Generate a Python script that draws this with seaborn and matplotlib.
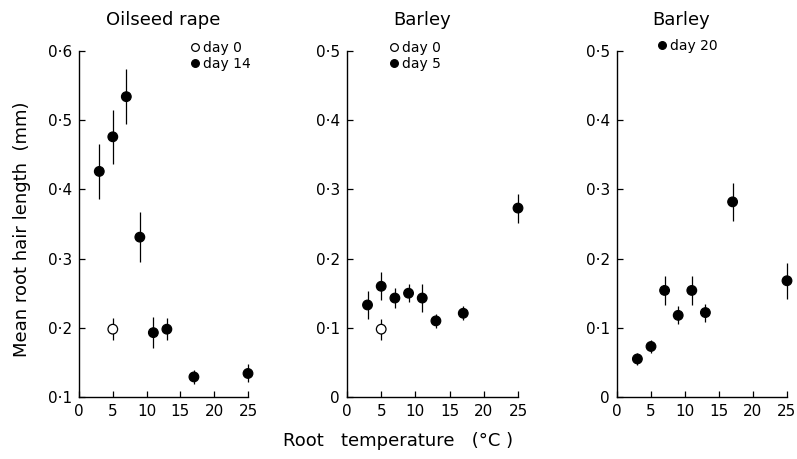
import pandas as pd
import seaborn as sns
import matplotlib.pyplot as plt

# --- Data ---
rape_temp = [5, 3, 5, 7, 9, 11, 13, 17, 25]
rape_len = [0.198, 0.426, 0.476, 0.534, 0.331, 0.193, 0.198, 0.129, 0.134]
rape_err = [0.016, 0.040, 0.039, 0.040, 0.036, 0.022, 0.016, 0.010, 0.013]
rape_day = ["day 0", "day 14", "day 14", "day 14", "day 14", "day 14", "day 14", "day 14", "day 14"]

barley5_temp = [5, 3, 5, 7, 9, 11, 13, 17, 25]
barley5_len = [0.098, 0.133, 0.160, 0.143, 0.150, 0.143, 0.110, 0.121, 0.273]
barley5_err = [0.015, 0.020, 0.020, 0.015, 0.013, 0.020, 0.010, 0.010, 0.021]
barley5_day = ["day 0", "day 5", "day 5", "day 5", "day 5", "day 5", "day 5", "day 5", "day 5"]

barley20_temp = [3, 5, 7, 9, 11, 13, 17, 25]
barley20_len = [0.055, 0.073, 0.154, 0.118, 0.154, 0.122, 0.282, 0.168]
barley20_err = [0.009, 0.010, 0.021, 0.013, 0.021, 0.013, 0.027, 0.026]
barley20_day = ["day 20"] * 8

titles = ["Oilseed rape", "Barley", "Barley"]
y_ticks = [[0.1, 0.2, 0.3, 0.4, 0.5, 0.6], [0, 0.1, 0.2, 0.3, 0.4, 0.5], [0, 0.1, 0.2, 0.3, 0.4, 0.5]]
x_ticks = [0, 5, 10, 15, 20, 25]

panels = [
    pd.DataFrame({"temp": rape_temp, "length": rape_len, "err": rape_err, "day": rape_day}),
    pd.DataFrame({"temp": barley5_temp, "length": barley5_len, "err": barley5_err, "day": barley5_day}),
    pd.DataFrame({"temp": barley20_temp, "length": barley20_len, "err": barley20_err, "day": barley20_day}),
]

sns.set_style("ticks")
plt.rcParams["font.family"] = ["DejaVu Sans"]
plt.rcParams["text.color"] = "black"
plt.rcParams["xtick.color"] = "black"
plt.rcParams["ytick.color"] = "black"

fig = plt.figure(figsize=(7.97, 4.59), dpi=100)
W, H = 797, 459
boxes = [(79, 169), (347, 171), (617, 170)]  # left px, width px
title_x = [0.50, 0.44, 0.38]
leg_pos = [(0.66, 1.03), (0.25, 1.03), (0.24, 1.035)]

for i, df in enumerate(panels):
    left, width = boxes[i]
    ax = fig.add_axes([left / W, 62 / H, width / W, 346 / H])
    ax.errorbar(df["temp"], df["length"], yerr=df["err"], fmt="none",
                ecolor="black", elinewidth=0.9, capsize=0, clip_on=False, zorder=2)
    days = list(dict.fromkeys(df["day"]))
    palette = {d: ("white" if d == "day 0" else "black") for d in days}
    sns.scatterplot(data=df, x="temp", y="length", hue="day", hue_order=days,
                    palette=palette, edgecolor="black", linewidth=0.9, s=48,
                    ax=ax, clip_on=False, zorder=3)
    ax.set_xlim(0, 25)
    ax.set_ylim(y_ticks[i][0], y_ticks[i][-1])
    ax.set_xticks(x_ticks)
    ax.set_yticks(y_ticks[i])
    ax.set_yticklabels(["0" if v == 0 else f"{v:.1f}".replace(".", "·") for v in y_ticks[i]])
    ax.tick_params(direction="in", length=4, width=0.9, labelsize=11, pad=5)
    for s in ["top", "right"]:
        ax.spines[s].set_visible(False)
    for s in ["left", "bottom"]:
        ax.spines[s].set_linewidth(1.0)
        ax.spines[s].set_color("black")
    ax.set_xlabel("")
    ax.set_ylabel("")
    ax.text(title_x[i], 1.09, titles[i], transform=ax.transAxes, ha="center",
            va="center", fontsize=13)
    ax.legend(loc="upper left", bbox_to_anchor=leg_pos[i], frameon=False,
              borderaxespad=0, borderpad=0, handlelength=0.6, handletextpad=0.3,
              labelspacing=0.15, fontsize=10, markerscale=0.8)

fig.text(0.027, 0.5, "Mean root hair length  (mm)", rotation=90, ha="center",
         va="center", fontsize=13)
fig.text(0.5, 0.04, "Root   temperature   (°C )", ha="center", va="center",
         fontsize=13)

fig.savefig("out.png", dpi=100)
